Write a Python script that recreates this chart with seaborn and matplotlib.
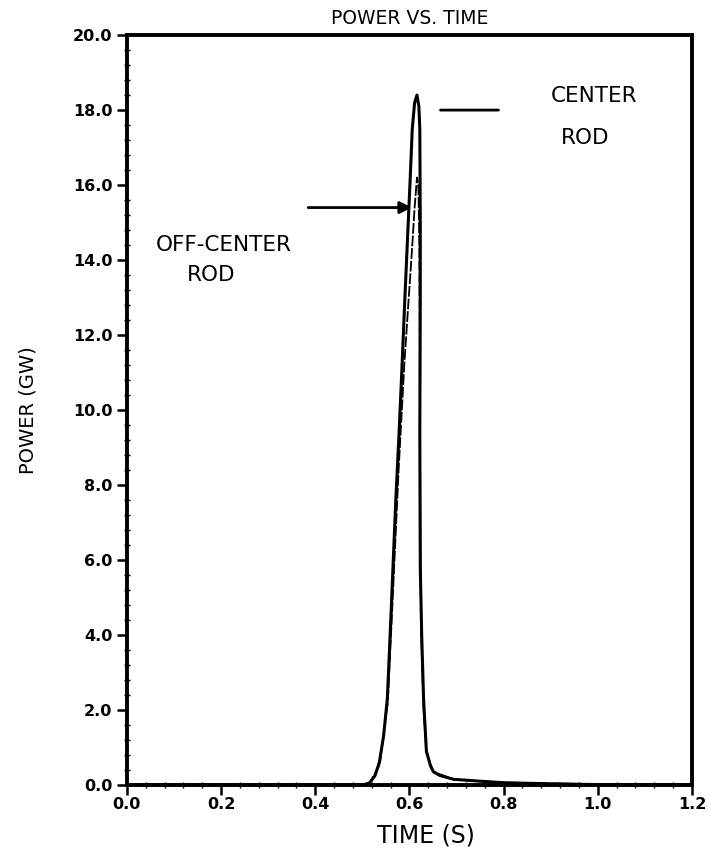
import numpy as np
import pandas as pd
import matplotlib
matplotlib.use("Agg")
import matplotlib.pyplot as plt
import seaborn as sns
from matplotlib.ticker import MultipleLocator, FormatStrFormatter

# Power traces (time in s, power in GW)
center_time = [0.0, 0.3, 0.5, 0.515, 0.527, 0.536, 0.545, 0.553, 0.559, 0.565, 0.571,
               0.578, 0.584, 0.590, 0.596, 0.601, 0.606, 0.611, 0.616, 0.620, 0.622,
               0.623, 0.623, 0.622, 0.623, 0.626, 0.630, 0.636, 0.645, 0.651, 0.665,
               0.694, 0.75, 0.80, 0.90, 1.0, 1.2]
center_power = [0.0, 0.0, 0.0, 0.05, 0.25, 0.6, 1.3, 2.3, 4.0, 5.8, 7.6,
                9.4, 11.1, 12.9, 14.6, 16.0, 17.5, 18.2, 18.4, 18.1, 17.5,
                15.0, 12.9, 9.4, 5.8, 4.0, 2.3, 0.9, 0.5, 0.35, 0.25,
                0.15, 0.1, 0.06, 0.03, 0.01, 0.0]

offcenter_time = [0.0, 0.5, 0.516, 0.537, 0.554, 0.566, 0.577, 0.589, 0.598, 0.605,
                  0.611, 0.616, 0.619, 0.621, 0.622, 0.623, 0.625, 0.630, 0.636,
                  0.651, 0.694, 0.80, 1.0, 1.2]
offcenter_power = [0.0, 0.0, 0.05, 0.55, 2.2, 5.4, 8.4, 11.2, 12.9, 14.2,
                   15.4, 16.2, 16.0, 14.5, 11.0, 7.0, 4.0, 2.0, 0.85,
                   0.35, 0.15, 0.06, 0.02, 0.0]

y_ticks = np.arange(0, 20.1, 2.0)
x_ticks = np.arange(0, 1.21, 0.2)

center = pd.DataFrame({"time": center_time, "power": center_power})
offcenter = pd.DataFrame({"time": offcenter_time, "power": offcenter_power})

sns.set_style("ticks")
plt.rcParams["font.family"] = ["DejaVu Sans"]
plt.rcParams["text.color"] = "black"
plt.rcParams["axes.labelcolor"] = "black"
plt.rcParams["xtick.color"] = "black"
plt.rcParams["ytick.color"] = "black"

fig = plt.figure(figsize=(7.09, 8.56), dpi=100)
ax = fig.add_axes([0.179, 0.083, 0.797, 0.876])

sns.lineplot(data=center, x="time", y="power", sort=False, estimator=None,
             color="black", linewidth=2.2, ax=ax)
sns.lineplot(data=offcenter, x="time", y="power", sort=False, estimator=None,
             color="black", linewidth=1.3, linestyle=(0, (6, 1)), ax=ax)

ax.set_xlim(0, 1.2)
ax.set_ylim(0, 20)
ax.set_xticks(x_ticks)
ax.set_yticks(y_ticks)
ax.xaxis.set_major_formatter(FormatStrFormatter("%.1f"))
ax.yaxis.set_major_formatter(FormatStrFormatter("%.1f"))
ax.xaxis.set_minor_locator(MultipleLocator(0.04))
ax.yaxis.set_minor_locator(MultipleLocator(0.4))
ax.tick_params(which="major", direction="out", length=7, width=1.8, labelsize=11.5)
ax.tick_params(axis="x", which="major", pad=2)
ax.tick_params(which="minor", direction="inout", length=4, width=1.0)
for lab in ax.get_xticklabels() + ax.get_yticklabels():
    lab.set_fontweight("bold")

for side in ["left", "right", "top", "bottom"]:
    ax.spines[side].set_visible(True)
    ax.spines[side].set_linewidth(2.8)
    ax.spines[side].set_color("black")

ax.set_title("POWER VS. TIME", fontsize=13.5, pad=8)
ax.set_xlabel("TIME (S)", fontsize=17)
ax.xaxis.set_label_coords(0.53, -0.052)
ax.set_ylabel("POWER (GW)", fontsize=14)
ax.yaxis.set_label_coords(-0.158, 0.5)

# annotations with arrows
ax.annotate("", xy=(0.66, 18.0), xytext=(0.795, 18.0),
            arrowprops=dict(arrowstyle="-", color="black", lw=2))
ax.text(0.991, 18.37, "CENTER", fontsize=15.5, ha="center", va="center")
ax.text(0.974, 17.25, "ROD", fontsize=15.5, ha="center", va="center")

ax.annotate("", xy=(0.611, 15.4), xytext=(0.379, 15.4),
            arrowprops=dict(arrowstyle="-|>", color="black", lw=2,
                            mutation_scale=18))
ax.text(0.206, 14.4, "OFF-CENTER", fontsize=15.5, ha="center", va="center")
ax.text(0.179, 13.6, "ROD", fontsize=15.5, ha="center", va="center")

fig.savefig("out.png", dpi=100, facecolor="white")
